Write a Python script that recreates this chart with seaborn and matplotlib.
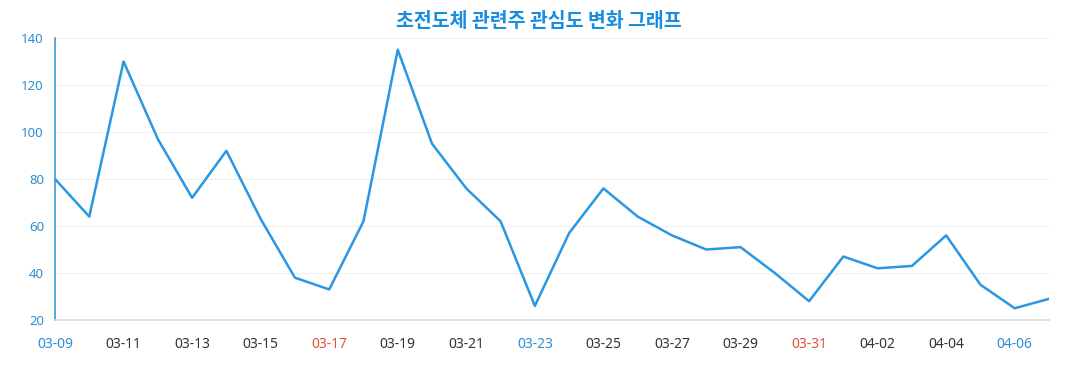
import matplotlib
matplotlib.use("Agg")
from matplotlib import pyplot as plt
import pandas as pd
import seaborn as sns

# daily interest values, 2024-03-09 .. 2024-04-07
dates = pd.date_range("2024-03-09", "2024-04-07", freq="D")
values = [80, 64, 130, 97, 72, 92, 63, 38, 33, 62,
          135, 95, 76, 62, 26, 57, 76, 64, 56, 50,
          51, 40, 28, 47, 42, 43, 56, 35, 25, 29]
title = "초전도체 관련주 관심도 변화 그래프"
y_ticks = [20, 40, 60, 80, 100, 120, 140]

df = pd.DataFrame({"day": range(len(dates)), "value": values})

sns.set_style("white")
plt.rcParams["font.family"] = ["Noto Sans", "Noto Sans CJK KR", "DejaVu Sans"]

fig = plt.figure(figsize=(10.77, 3.9), dpi=100)
ax = fig.add_axes([55 / 1077, 1 - 320 / 390, (1049 - 55) / 1077, (320 - 38) / 390])

line_color = "#2a97e3"
sns.lineplot(data=df, x="day", y="value", ax=ax, color=line_color, linewidth=1.8)

ax.set_xlim(0, len(dates) - 1)
ax.set_ylim(20, 140)
ax.set_yticks(y_ticks)
ax.set_xticks(range(len(dates)))
labels = [d.strftime("%m-%d") if i % 2 == 0 else "" for i, d in enumerate(dates)]
ax.set_xticklabels(labels)
ax.set_xlabel("")
ax.set_ylabel("")

ax.grid(axis="y", color="#f0f0f0", linewidth=0.8)
ax.set_axisbelow(True)
for s in ["top", "right"]:
    ax.spines[s].set_visible(False)
ax.spines["left"].set_color("#3a9ad8")
ax.spines["left"].set_linewidth(1.2)
ax.spines["bottom"].set_color("#d9d9d9")
ax.spines["bottom"].set_linewidth(1.2)

ax.tick_params(axis="y", length=4, color="#cccccc", labelcolor="#2d8fd0", labelsize=9.5, pad=4)
ax.tick_params(axis="x", length=5, color="#d9d9d9", labelsize=10, labelcolor="#333333", pad=7)

# weekend colouring: Saturday blue, Sunday red
for d, lab in zip(dates, ax.get_xticklabels()):
    if d.weekday() == 5:
        lab.set_color("#2d8fd0")
    elif d.weekday() == 6:
        lab.set_color("#e0553a")

fig.text(0.5, 0.945, title, ha="center", va="center", fontsize=14, fontweight="bold",
         color="#1a8de0", family=["Noto Sans CJK KR", "DejaVu Sans"])

fig.savefig("out.png", dpi=100)
